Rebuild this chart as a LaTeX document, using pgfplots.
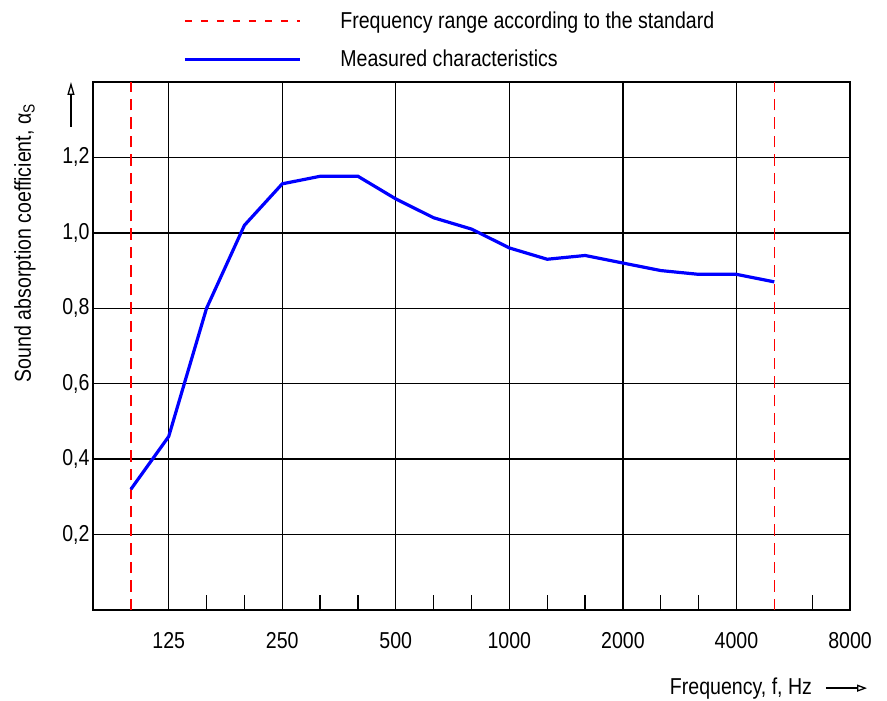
\documentclass[border=0pt]{standalone}
\usepackage{pgfplots}
\pgfplotsset{compat=1.18}
\usepackage{fontspec}
\setmainfont[FakeStretch=0.85]{Liberation Sans}
\usetikzlibrary{arrows.meta}

\begin{document}
\begin{tikzpicture}[font=\fontsize{23}{27}\selectfont]
\begin{axis}[
  name=main,
  scale only axis,
  width=757pt, height=528pt,
  xmin=-1, xmax=19,
  ymin=0, ymax=1.4,
  clip=false,
  axis line style={line width=1.6pt},
  xtick={1,4,7,10,13,16,19},
  xticklabels={125,250,500,1000,2000,4000,8000},
  minor xtick={2,3,5,6,8,9,11,12,14,15,18},
  ytick={0.2,0.4,0.6,0.8,1.0,1.2},
  yticklabel style={/pgf/number format/.cd,fixed,fixed zerofill,precision=1,use comma,assume math mode=true},
  xticklabel style={yshift=-19pt},
  xtick pos=bottom, ytick pos=left,
  tick align=inside,
  major tick length=0pt,
  minor tick length=15pt,
  tick style={black, line width=1.3pt},
  grid=major,
  major grid style={black, line width=1.3pt},
  xlabel={Frequency, f, Hz},
  xlabel style={at={(axis description cs:0.950,-0.148)}, anchor=east, inner sep=0pt},
  ylabel={Sound absorption coefficient, α\textsubscript{S}},
  ylabel style={at={(axis description cs:-0.0898,0.695)}, anchor=center, inner sep=0pt},
  legend style={draw=none, fill=none, at={(axis description cs:0.1189,1.133)}, anchor=north west,
    inner sep=0pt, row sep=20pt, column sep=39pt, nodes={inner sep=0pt}},
  legend cell align=left,
  legend image code/.code={\draw[#1] (0pt,0pt) -- (115pt,0pt);},
]
\addplot[red, dash pattern=on 11.5pt off 7pt, line width=1.6pt,
  legend image post style={dash pattern=on 7pt off 9pt}] coordinates {(0,0) (0,1.4)};
\addlegendentry{Frequency range according to the standard}
\addplot[red, dash pattern=on 11.5pt off 7pt, line width=1.6pt, forget plot] coordinates {(17,0) (17,1.4)};
\addplot[blue, line width=3.2pt] coordinates {
  (0,0.32) (1,0.46) (2,0.80) (3,1.02) (4,1.13) (5,1.15) (6,1.15) (7,1.09) (8,1.04)
  (9,1.01) (10,0.96) (11,0.93) (12,0.94) (13,0.92) (14,0.90) (15,0.89) (16,0.89) (17,0.87)
};
\addlegendentry{Measured characteristics}
\draw[line width=1.3pt, -{Triangle[open, length=10pt, width=7pt]}]
  (axis description cs:0.968,-0.148) -- (axis description cs:1.0225,-0.148);
\draw[line width=1.3pt, -{Triangle[open, length=13pt, width=7pt]}]
  (axis description cs:-0.0291,0.9148) -- (axis description cs:-0.0291,1.0);
\end{axis}
\pgfresetboundingbox
\path ([shift={(-93pt,-90pt)}]main.south west) rectangle ([shift={(37pt,82pt)}]main.north east);
\end{tikzpicture}
\end{document}
